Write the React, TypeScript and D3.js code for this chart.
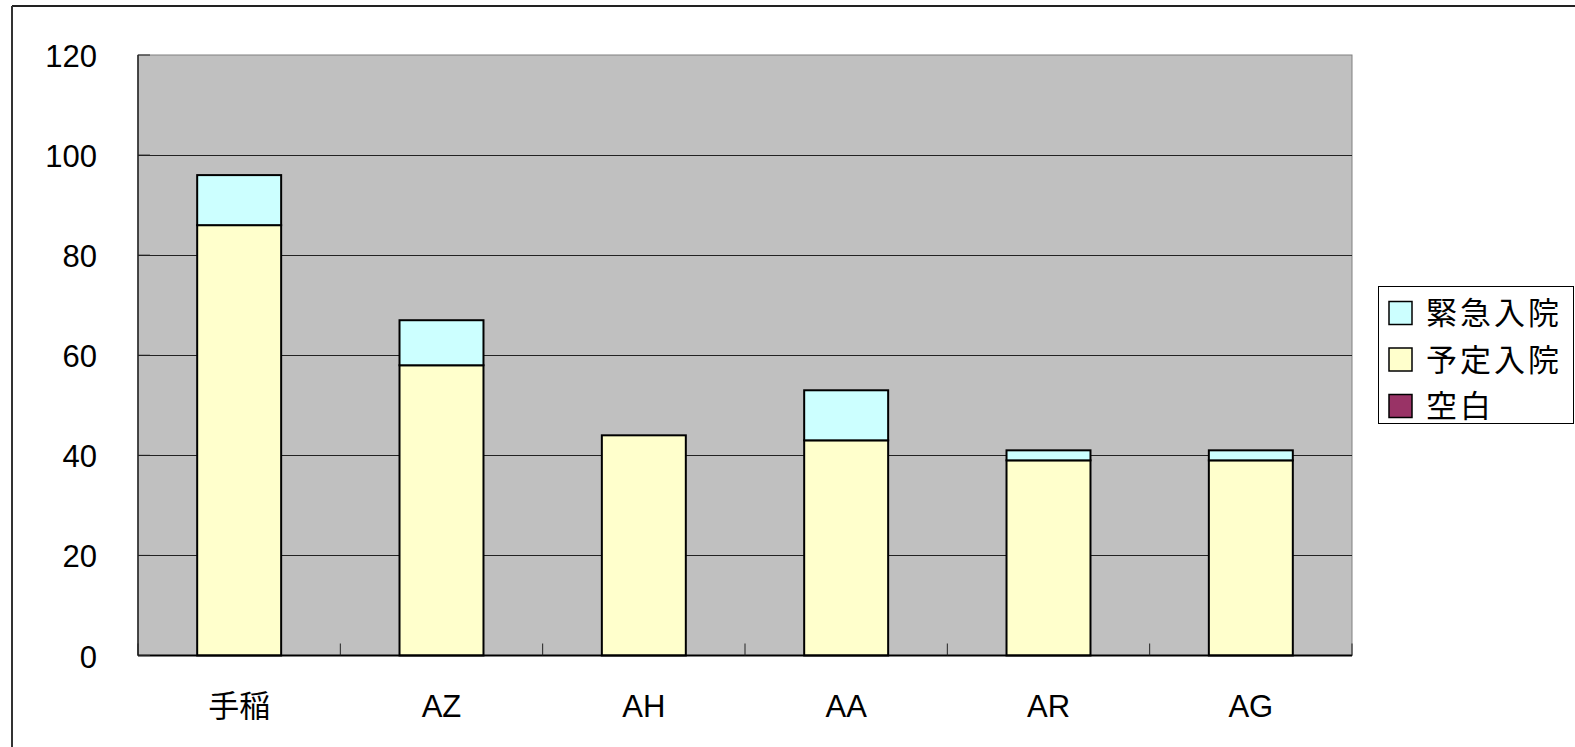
import * as d3 from "d3"

const categories = ["手稲", "AZ", "AH", "AA", "AR", "AG"]
const kinkyu = [10, 9, 0, 10, 2, 2]
const yotei = [86, 58, 44, 43, 39, 39]
const kuhaku = [0, 0, 0, 0, 0, 0]
const yTicks = [0, 20, 40, 60, 80, 100, 120]

const seriesNames = ["空白", "予定入院", "緊急入院"]
const seriesColors = ["#993366", "#ffffcc", "#ccffff"]
const legendOrder = ["緊急入院", "予定入院", "空白"]

const W = 1575
const H = 747
const plot = { left: 138, top: 55, right: 1352, bottom: 655.5 }
const FONT = "'Liberation Sans', Arial, 'Noto Sans CJK JP', sans-serif"

const App = () => {
  const rows = categories.map((c, i) => ({
    cat: c,
    空白: kuhaku[i],
    予定入院: yotei[i],
    緊急入院: kinkyu[i],
  }))
  const stacked = d3.stack<any>().keys(seriesNames)(rows)

  const x = d3
    .scaleBand()
    .domain(categories)
    .range([plot.left, plot.right])
    .padding(0)
  const y = d3.scaleLinear().domain([0, 120]).range([plot.bottom, plot.top])
  const barW = x.bandwidth() * 0.415

  return (
    <svg
      width={W}
      height={H}
      style={{ position: "absolute", left: 0, top: 0, background: "#fff" }}
      fontFamily={FONT}
    >
      {/* outer chart frame */}
      <line x1={12} y1={6} x2={W} y2={6} stroke="#222" strokeWidth={2} />
      <line x1={12} y1={6} x2={12} y2={H} stroke="#333" strokeWidth={2} />

      {/* plot area */}
      <rect
        x={plot.left}
        y={plot.top}
        width={plot.right - plot.left}
        height={plot.bottom - plot.top}
        fill="#c0c0c0"
        stroke="#808080"
        strokeWidth={1}
      />
      {yTicks
        .filter((t) => t > 0 && t < 120)
        .map((t) => (
          <line
            key={t}
            x1={plot.left}
            x2={plot.right}
            y1={Math.round(y(t)) + 0.5}
            y2={Math.round(y(t)) + 0.5}
            stroke="#222"
            strokeWidth={1}
          />
        ))}

      {/* bars */}
      {stacked.map((s, si) =>
        s.map((d, i) => {
          const h = y(d[0]) - y(d[1])
          if (h <= 0) return null
          const cx = (x(categories[i]) as number) + x.bandwidth() / 2
          return (
            <rect
              key={`${si}-${i}`}
              x={cx - barW / 2}
              y={y(d[1])}
              width={barW}
              height={h}
              fill={seriesColors[si]}
              stroke="#000"
              strokeWidth={2}
            />
          )
        })
      )}

      {/* axes */}
      <line x1={plot.left} x2={plot.left} y1={plot.top} y2={plot.bottom} stroke="#222" strokeWidth={1.5} />
      <line x1={plot.left} x2={plot.right} y1={plot.bottom} y2={plot.bottom} stroke="#000" strokeWidth={2} />
      {yTicks.map((t) => (
        <line key={t} x1={plot.left} x2={plot.left + 12} y1={y(t)} y2={y(t)} stroke="#222" strokeWidth={1} />
      ))}
      {d3.range(categories.length + 1).map((i) => {
        const xx = plot.left + i * x.step()
        return <line key={i} x1={xx} x2={xx} y1={plot.bottom - 12} y2={plot.bottom} stroke="#222" strokeWidth={1} />
      })}

      {/* y labels */}
      {yTicks.map((t) => (
        <text key={t} x={97} y={y(t) + 12} textAnchor="end" fontSize={31} fill="#000">
          {t}
        </text>
      ))}

      {/* x labels */}
      {categories.map((c) => (
        <text
          key={c}
          x={(x(c) as number) + x.bandwidth() / 2}
          y={717}
          textAnchor="middle"
          fontSize={31}
          fill="#000"
        >
          {c}
        </text>
      ))}

      {/* legend */}
      <rect x={1378.5} y={286.5} width={195} height={137} fill="#fff" stroke="#000" strokeWidth={1} />
      {legendOrder.map((name, i) => {
        const cy = 313 + i * 46.5
        const col = seriesColors[seriesNames.indexOf(name)]
        return (
          <g key={name}>
            <rect x={1389} y={cy - 11.5} width={23} height={23} fill={col} stroke="#000" strokeWidth={1.5} />
            <text x={1426} y={cy + 11} fontSize={31} fontFamily="'Noto Sans CJK JP', sans-serif" letterSpacing={3} fill="#000">
              {name}
            </text>
          </g>
        )
      })}
    </svg>
  )
}

export default App
